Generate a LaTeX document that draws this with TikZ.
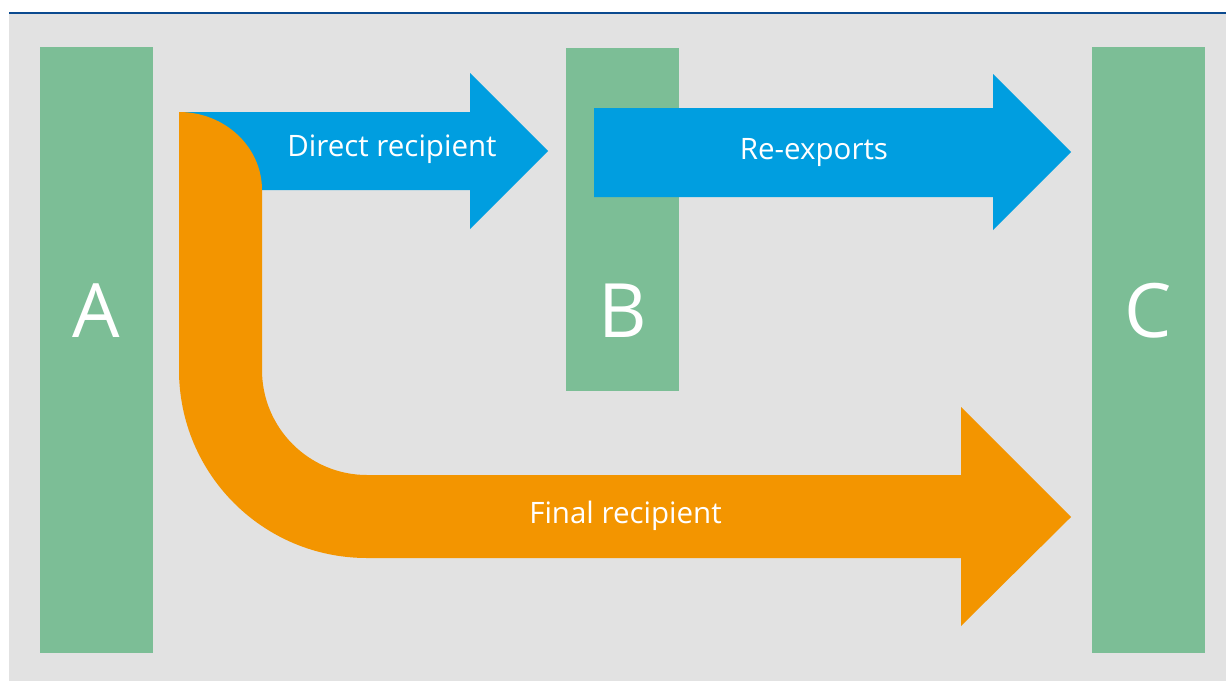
\documentclass[tikz,border=0pt]{standalone}
\usepackage{fontspec}
\setmainfont{Open Sans}
\usepackage{tikz}
\usepackage{xcolor}
\usetikzlibrary{positioning, calc}
\definecolor{myGreen}{HTML}{7CBE96}
\definecolor{myBlue}{HTML}{009EE0}
\definecolor{myOrange}{HTML}{F39500}
\definecolor{myGrey}{HTML}{E2E2E2}
\definecolor{myNavy}{HTML}{0B4A8F}

\begin{document}
\begin{tikzpicture}[
  x=1pt, y=-1pt,
  bar/.style={fill=myGreen, draw=none, inner sep=0pt, minimum width=113pt},
  letter/.style={anchor=base, text=white, font=\fontsize{75}{75}\selectfont},
  flowlabel/.style={anchor=base, text=white, font=\fontsize{29.5}{29.5}\selectfont},
]
  \useasboundingbox (0,0) rectangle (1226,681);
  % panel and top rule
  \fill[myGrey] (9,14) rectangle (1226,681);
  \draw[myNavy, line width=2.8pt] (9,13) -- (1226,13);

  % the three countries
  \node[bar, minimum height=606pt] (boxA) at (96.5,350) {};
  \node[bar, minimum height=343pt] (boxB) at (622.5,219.5) {};
  \node[bar, minimum height=606pt] (boxC) at (1148.5,350) {};
  \node[letter] (letterA) at (96.5,337) {A};
  \node[letter] (letterB) at (622.5,337) {B};
  \node[letter] (letterC) at (1148.5,337) {C};

  % A -> B
  \fill[myBlue] (179,112) -- (470,112) -- (470,73) -- (548,151)
    -- (470,229) -- (470,190) -- (179,190) -- cycle;
  % B -> C
  \fill[myBlue] (594,108) -- (993,108) -- (993,74) -- (1071,152)
    -- (993,230) -- (993,197) -- (594,197) -- cycle;
  % A -> C, bent round the corner
  \fill[myOrange] (179,112) .. controls (225,112) and (262,147) .. (262,190)
    -- (262,370) .. controls (262,428) and (309,475) .. (367,475)
    -- (961,475) -- (961,407) -- (1071,517) -- (961,626) -- (961,558)
    -- (367,558) .. controls (263,558) and (179,474) .. (179,370) -- cycle;

  \node[flowlabel] (direct) at (392,156) {Direct recipient};
  \node[flowlabel] (reexports) at (814,159) {Re-exports};
  \node[flowlabel] (final) at (625.5,523) {Final recipient};
\end{tikzpicture}
\end{document}
